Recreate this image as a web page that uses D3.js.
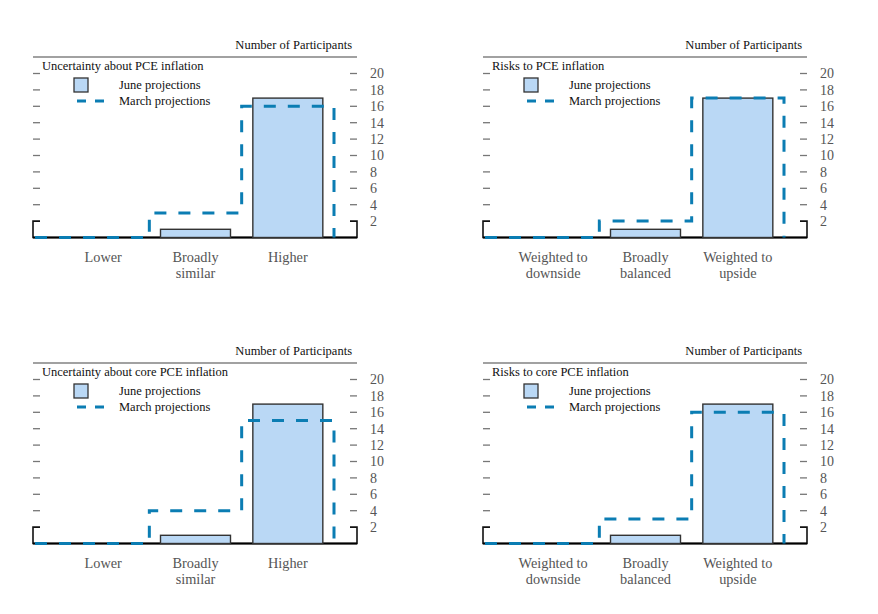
<!DOCTYPE html>
<html>
<head>
<meta charset="utf-8">
<script src="https://cdn.jsdelivr.net/npm/d3@7"></script>
<style>
  body { margin: 0; background: #fff; }
  svg text { font-family: "Liberation Serif", "Times New Roman", serif; }
</style>
</head>
<body>
<svg id="chart" width="878" height="614"></svg>
<script>
// data
const titles = [
  "Uncertainty about PCE inflation",
  "Risks to PCE inflation",
  "Uncertainty about core PCE inflation",
  "Risks to core PCE inflation"
];
const uncertaintyCats = [["Lower"], ["Broadly", "similar"], ["Higher"]];
const riskCats = [["Weighted to", "downside"], ["Broadly", "balanced"], ["Weighted to", "upside"]];
const juneValues = [
  [0, 1, 17],
  [0, 1, 17],
  [0, 1, 17],
  [0, 1, 17]
];
const marchValues = [
  [0, 3, 16],
  [0, 2, 17],
  [0, 4, 15],
  [0, 3, 16]
];
const yTicks = [2, 4, 6, 8, 10, 12, 14, 16, 18, 20];

const svg = d3.select('#chart');
const panelW = 324;
const barFill = '#bad8f5';
const marchColor = '#0b7db3';
const grayTxt = '#555';

const panels = [
  { ox: 33, oy: 57, cats: uncertaintyCats },
  { ox: 483, oy: 57, cats: riskCats },
  { ox: 33, oy: 363, cats: uncertaintyCats },
  { ox: 483, oy: 363, cats: riskCats }
];

panels.forEach((p, i) => {
  const g = svg.append('g').attr('transform', `translate(${p.ox},${p.oy})`);
  const june = juneValues[i];
  const march = marchValues[i];
  const keys = p.cats.map(c => c.join(' '));

  const x = d3.scaleBand().domain(keys).range([24, 301]).paddingInner(0.242).paddingOuter(0.121);
  const y = d3.scaleLinear().domain([0, 20]).range([180.5, 16.5]);
  const half = (x.step() - x.bandwidth()) / 2;

  // top rule and unit label
  g.append('line').attr('x1', 0).attr('x2', panelW).attr('y1', 0).attr('y2', 0)
    .attr('stroke', '#444').attr('stroke-width', 1.2);
  g.append('text').attr('x', 319).attr('y', -8).attr('text-anchor', 'end')
    .attr('font-size', 12.5).attr('fill', '#111').text('Number of Participants');

  // title
  g.append('text').attr('x', 9).attr('y', 13).attr('font-size', 12.5).attr('fill', '#111').text(titles[i]);

  // ticks on both sides
  const tk = yTicks.filter(d => d !== 2);
  g.selectAll('.lt').data(tk).enter().append('line')
    .attr('x1', 0).attr('x2', 7).attr('y1', d => y(d)).attr('y2', d => y(d))
    .attr('stroke', '#777').attr('stroke-width', 1.3);
  g.selectAll('.rt').data(tk).enter().append('line')
    .attr('x1', panelW - 7).attr('x2', panelW).attr('y1', d => y(d)).attr('y2', d => y(d))
    .attr('stroke', '#777').attr('stroke-width', 1.3);
  g.selectAll('.tl').data(yTicks).enter().append('text')
    .attr('x', 337).attr('y', d => y(d)).attr('dy', '0.35em')
    .attr('font-size', 14).attr('fill', grayTxt).text(d => d);

  // bracket frame at the bottom
  const bracket = d3.line()([
    [7, y(2)], [0, y(2)], [0, y(0)], [panelW, y(0)], [panelW, y(2)], [panelW - 7, y(2)]
  ]);
  g.append('path').attr('d', bracket).attr('fill', 'none').attr('stroke', '#111').attr('stroke-width', 1.6);
  g.append('line').attr('x1', 0).attr('x2', panelW).attr('y1', y(0)).attr('y2', y(0))
    .attr('stroke', '#000').attr('stroke-width', 2.2);

  // June bars
  g.selectAll('.bar').data(june.map((v, j) => ({ k: keys[j], v }))).enter()
    .filter(d => d.v > 0).append('rect')
    .attr('x', d => x(d.k))
    .attr('y', d => y(d.v))
    .attr('width', x.bandwidth())
    .attr('height', d => y(0) - y(d.v))
    .attr('fill', barFill).attr('stroke', '#333').attr('stroke-width', 1.4);

  // March dashed step line
  const pts = [];
  march.forEach((v, j) => {
    const left = j === 0 ? 2 : x(keys[j]) - half;
    const right = x(keys[j]) + x.bandwidth() + half;
    pts.push([left, y(v)], [right, y(v)]);
  });
  pts.push([pts[pts.length - 1][0], y(0)]);
  g.append('path').attr('d', d3.line()(pts)).attr('fill', 'none')
    .attr('stroke', marchColor).attr('stroke-width', 3).attr('stroke-dasharray', '12,12');

  // legend
  g.append('rect').attr('x', 41).attr('y', 21).attr('width', 14).attr('height', 14)
    .attr('fill', barFill).attr('stroke', '#333').attr('stroke-width', 1.3);
  g.append('text').attr('x', 86).attr('y', 28).attr('dy', '0.35em').attr('font-size', 12.5).attr('fill', '#111')
    .text('June projections');
  g.append('line').attr('x1', 44).attr('x2', 71).attr('y1', 44).attr('y2', 44)
    .attr('stroke', marchColor).attr('stroke-width', 3).attr('stroke-dasharray', '9,9');
  g.append('text').attr('x', 86).attr('y', 44).attr('dy', '0.35em').attr('font-size', 12.5).attr('fill', '#111')
    .text('March projections');

  // category labels
  p.cats.forEach((lines, j) => {
    const cx = x(keys[j]) + x.bandwidth() / 2;
    const t = g.append('text').attr('x', cx).attr('y', y(0) + 24)
      .attr('text-anchor', 'middle').attr('font-size', 14.3).attr('fill', grayTxt);
    lines.forEach((s, k) => {
      t.append('tspan').attr('x', cx).attr('dy', k === 0 ? 0 : 16).text(s);
    });
  });
});
</script>
</body>
</html>
